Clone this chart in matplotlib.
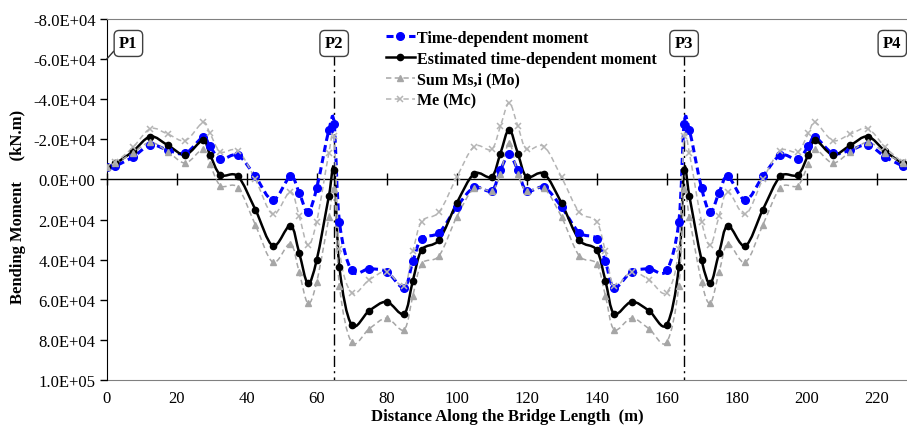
import numpy as np
import matplotlib
matplotlib.use("Agg")
import matplotlib.pyplot as plt
from matplotlib.path import Path
from matplotlib.patches import PathPatch
from matplotlib.lines import Line2D
from matplotlib.ticker import FuncFormatter

plt.rcParams['font.family'] = ['Liberation Serif', 'DejaVu Serif']

# distance along the bridge (m)
dist = [0, 2.5, 7.5, 12.5, 17.5, 22.5, 27.5, 29.5, 32.5, 37.5, 42.5, 47.5, 52.5, 55, 57.5, 60,
        63.5, 65, 66.5, 70, 75, 80, 85, 87.5, 90, 95, 100, 105, 110, 112.5, 115,
        117.5, 120, 125, 130, 135, 140, 142.5, 145, 150, 155, 160, 163.5, 165, 166.5, 170,
        172.5, 175, 177.5, 182.5, 187.5, 192.5, 197.5, 200.5, 202.5, 207.5, 212.5, 217.5,
        222.5, 227.5, 230]

# bending moments (kN.m)
time_dep = [-6300, -6800, -11200, -17200, -14600, -13000, -21000, -16500, -10100, -12100, -1500,
            10300, -1500, 6600, 16300, 4400, -24700, -27700, 21000, 45400, 44600, 46000, 54000,
            40800, 29500, 26500, 13800, 4000, 5700, -4500, -12500,
            -4500, 5700, 4000, 13800, 26500, 29500, 40800, 54000, 46000, 44600, 45400, 21000,
            -27700, -24700, 4400, 16300, 6600, -1500, 10300, -1500, -12100, -10100, -16500,
            -21000, -13000, -14600, -17200, -11200, -6800, -6300]

estimated = [-6300, -8000, -14000, -21400, -17000, -12300, -19500, -12400, -2300, -1500, 15100,
             33100, 23000, 36600, 51800, 40200, 8200, -4800, 43700, 72500, 65500, 61000, 67000,
             50400, 35200, 30100, 11900, -2800, -1300, -12900, -24900,
             -12900, -1300, -2800, 11900, 30100, 35200, 50400, 67000, 61000, 65500, 72500, 43700,
             -4800, 8200, 40200, 51800, 36600, 23000, 33100, 15100, -1500, -2300, -12400,
             -19500, -12300, -17000, -21400, -14000, -8000, -6300]

sum_ms = [-6300, -8000, -13300, -18500, -13800, -8200, -15000, -7600, 3100, 4100, 22700,
          41300, 32100, 46300, 61700, 51200, 18900, 4800, 52900, 81200, 74500, 69200, 74900,
          57900, 42100, 38000, 18800, 4500, 5600, -2600, -18300,
          -2600, 5600, 4500, 18800, 38000, 42100, 57900, 74900, 69200, 74500, 81200, 52900,
          4800, 18900, 51200, 61700, 46300, 32100, 41300, 22700, 4100, 3100, -7600,
          -15000, -8200, -13800, -18500, -13300, -8000, -6300]

me = [-6300, -8500, -16000, -25300, -22600, -19400, -28400, -23000, -13800, -14300, 0,
      17400, 6100, 18300, 32700, 21000, -13200, -21700, 34600, 56400, 50100, 46000, 53200,
      35800, 21000, 16200, -1000, -16400, -15000, -26500, -38200,
      -26500, -15000, -16400, -1000, 16200, 21000, 35800, 53200, 46000, 50100, 56400, 34600,
      -21700, -13200, 21000, 32700, 18300, 6100, 17400, 0, -14300, -13800, -23000,
      -28400, -19400, -22600, -25300, -16000, -8500, -6300]

piers = ["P1", "P2", "P3", "P4"]
pier_x = [0, 65, 165, 230]

x_ticks = list(range(0, 221, 20))
y_ticks = list(range(-80000, 100001, 20000))


def smooth_path(x, y):
    # smoothed line like the spreadsheet one (cubic bezier through the points)
    pts = np.column_stack([x, y]).astype(float)
    n = len(pts)
    verts = [pts[0]]
    codes = [Path.MOVETO]
    for i in range(n - 1):
        p0 = pts[i - 1] if i > 0 else pts[i]
        p1 = pts[i]
        p2 = pts[i + 1]
        p3 = pts[i + 2] if i + 2 < n else pts[i + 1]
        verts += [p1 + (p2 - p0) / 6, p2 - (p3 - p1) / 6, p2]
        codes += [Path.CURVE4] * 3
    return Path(verts, codes)


fig = plt.figure(figsize=(9.07, 4.27), dpi=100)
ax = fig.add_axes([106.7 / 907, 46 / 427, 800.3 / 907, 361 / 427])

series = [
    (time_dep, "Time-dependent moment", dict(color="#0000FF", lw=2.2, ls=(0, (2.3, 1.4))),
     dict(marker="o", ms=5.5)),
    (estimated, "Estimated time-dependent moment", dict(color="black", lw=1.8, ls="-"),
     dict(marker="o", ms=4.5)),
    (sum_ms, "Sum Ms,i (Mo)", dict(color="#A6A6A6", lw=1.1, ls=(0, (3.5, 2.2))),
     dict(marker="^", ms=4.5)),
    (me, "Me (Mc)", dict(color="#B4B4B4", lw=1.1, ls=(0, (3.5, 2.2))),
     dict(marker="x", ms=5, mew=1.1)),
]

handles = []
for vals, label, lstyle, mstyle in series:
    patch = PathPatch(smooth_path(dist, vals), fill=False, edgecolor=lstyle["color"],
                      lw=lstyle["lw"], linestyle=lstyle["ls"], zorder=3)
    ax.add_patch(patch)
    ax.plot(dist, vals, ls="none", color=lstyle["color"], zorder=4, **mstyle)
    handles.append(Line2D([], [], color=lstyle["color"], lw=lstyle["lw"], ls=lstyle["ls"],
                          **mstyle))

ax.set_xlim(0, 228.7)
ax.set_ylim(100000, -80000)

# x axis crossing at zero, labels at the bottom
ax.spines["bottom"].set_position(("data", 0))
ax.spines["bottom"].set_color("black")
ax.spines["bottom"].set_linewidth(1)
ax.set_xticks(x_ticks)
ax.tick_params(axis="x", direction="inout", length=8, width=1, labelbottom=False)

sec = ax.secondary_xaxis("bottom")
sec.set_xticks(x_ticks)
sec.tick_params(length=0, labelsize=12, pad=7)
sec.spines["bottom"].set_color("#808080")
sec.set_xlabel("Distance Along the Bridge Length  (m)", fontsize=12, fontweight="bold",
               labelpad=2)

ax.set_yticks(y_ticks)
ax.yaxis.set_major_formatter(FuncFormatter(lambda v, p: f"{v:.1E}"))
ax.tick_params(axis="y", direction="out", length=5, width=1, labelsize=12, pad=3)
ax.set_ylabel("Bending Moment     (kN.m)", fontsize=12, fontweight="bold")
ax.yaxis.set_label_coords(-0.101, 0.482)

ax.spines["left"].set_color("black")
ax.spines["top"].set_color("#808080")
ax.spines["right"].set_visible(False)

# pier labels
box = dict(boxstyle="round,pad=0.3,rounding_size=0.3", fc="white", ec="#404040", lw=1)
for name, px in zip(piers, pier_x):
    if name == "P1":
        ax.annotate(name, xy=(px, -60000), xytext=(px + 6.2, -67800), ha="center", va="center",
                    fontsize=12, fontweight="bold", bbox=box, annotation_clip=False,
                    arrowprops=dict(arrowstyle="-", color="#303030", lw=1, relpos=(0, 0.4),
                                    shrinkA=0, shrinkB=0))
    elif name == "P4":
        ax.annotate(name, xy=(px, -60000), xytext=(px - 5.5, -67800), ha="center", va="center",
                    fontsize=12, fontweight="bold", bbox=box, annotation_clip=False,
                    arrowprops=dict(arrowstyle="-", color="#303030", lw=1, relpos=(1, 0.4),
                                    shrinkA=0, shrinkB=0))
    else:
        ax.text(px, -67800, name, ha="center", va="center", fontsize=12, fontweight="bold",
                bbox=box, zorder=5)
        ax.vlines(px, -62500, 100000, colors="black", lw=1, linestyles=[(0, (8, 3, 1.5, 3))],
                  zorder=2)

ax.legend(handles, [s[1] for s in series], loc="upper left", frameon=False,
          bbox_to_anchor=(386 / 907, 1 - 31 / 427), bbox_transform=fig.transFigure,
          prop=dict(size=11.5, weight="bold"), handlelength=1.8, handletextpad=0.15,
          labelspacing=0.3, borderpad=0, borderaxespad=0)

fig.savefig("out.png", dpi=100)
